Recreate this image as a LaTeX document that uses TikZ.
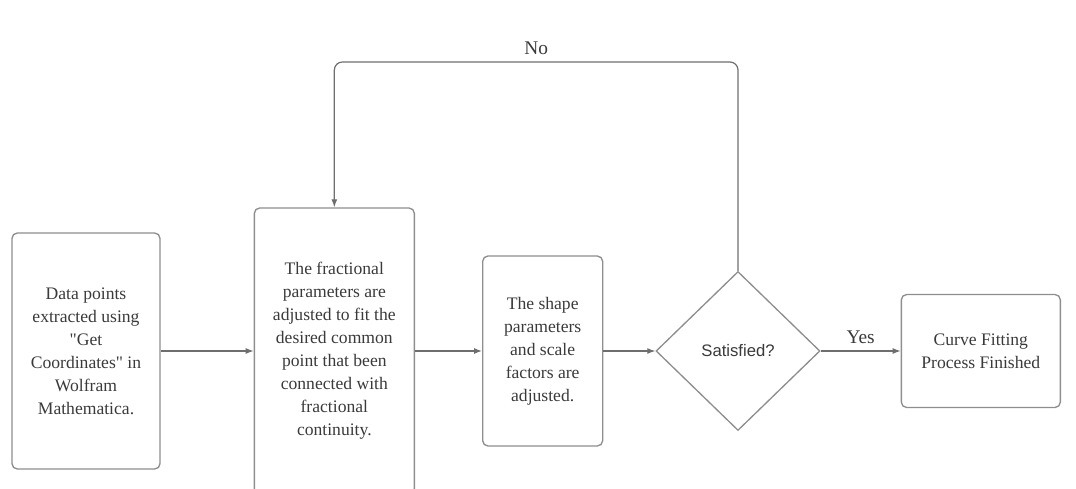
\documentclass[tikz,border=0pt]{standalone}
\usepackage{fontspec}
\setmainfont{Liberation Serif}[Ligatures=TeXOff]
\newfontfamily\sanslib{Liberation Sans}
\usepackage{xcolor}
\usepackage{tikz}
\usetikzlibrary{shapes.geometric,arrows.meta,positioning,calc}
\definecolor{borde}{HTML}{8E8E8E}
\definecolor{linea}{HTML}{6E6E6E}
\definecolor{texto}{HTML}{3A3A3A}

\begin{document}
\begin{tikzpicture}[x=0.75pt,y=-0.75pt,
  caja/.style={draw=borde,line width=1pt,rounded corners=4pt,align=center,
               text=texto,font=\fontsize{13.2}{17.25}\selectfont,inner sep=4pt},
  decision/.style={diamond,draw=borde,line width=1pt,text=texto,
               font=\sanslib\fontsize{12.5}{15}\selectfont,
               minimum width=123pt,minimum height=119.25pt,inner sep=0pt},
  flecha/.style={-{Latex[length=6pt,width=4.5pt]},draw=linea,line width=0.9pt},
  etiqueta/.style={text=texto,font=\fontsize{14.5}{16}\selectfont}
]
\useasboundingbox (0,0) rectangle (1076,489);
\node[caja,minimum width=111pt,minimum height=177pt] (datos) at (86,351)
  {Data points\\extracted using\\"Get\\Coordinates" in\\Wolfram\\Mathematica.};
\node[caja,minimum width=120pt,minimum height=214.5pt,right=69.75pt of datos] (fraccional)
  {The fractional\\parameters are\\adjusted to fit the\\desired common\\point that been\\connected with\\fractional\\continuity.};
\node[caja,minimum width=90pt,minimum height=142.5pt,right=50.25pt of fraccional] (forma)
  {The shape\\parameters\\and scale\\factors are\\adjusted.};
\node[decision,right=39pt of forma] (satisf) {Satisfied?};
\node[caja,minimum width=119.25pt,minimum height=84.75pt,right=60pt of satisf] (fin)
  {Curve Fitting\\Process Finished};
\coordinate (arriba) at (0,62);
\draw[flecha] (datos) -- (fraccional);
\draw[flecha] (fraccional) -- (forma);
\draw[flecha] (forma) -- (satisf);
\draw[flecha] (satisf) -- node[etiqueta,above=2pt] (si) {Yes} (fin);
\draw[flecha,rounded corners=6pt] (satisf.north) -- (satisf.north |- arriba)
  -- node[etiqueta,above=2pt] (no) {No} (fraccional.north |- arriba) -- (fraccional.north);
\end{tikzpicture}
\end{document}
